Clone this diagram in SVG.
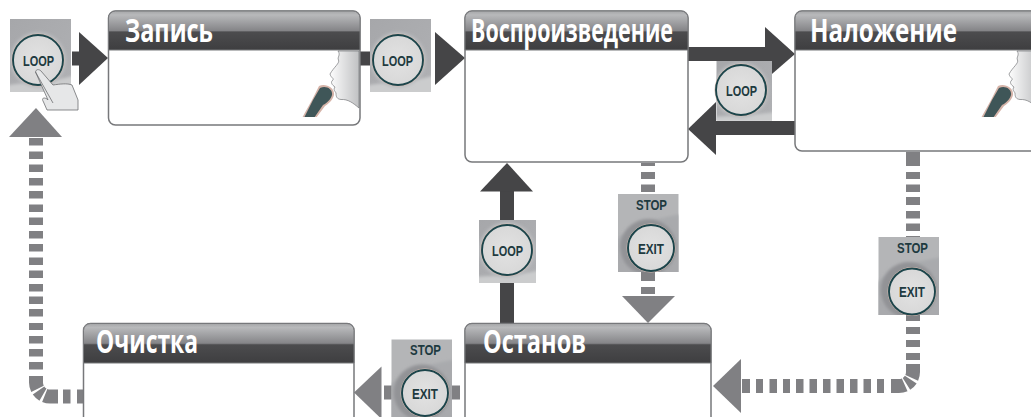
<svg xmlns="http://www.w3.org/2000/svg" width="1031" height="417" viewBox="0 0 1031 417">
<style>
.box{fill:#fff;stroke:#77787b;stroke-width:1.5}
.title{font-family:"Open Sans","Noto Sans",sans-serif;font-weight:700;font-size:33px;fill:#fff}
.solid{fill:#454547}
.dash{fill:#808083}
.dl{fill:none;stroke:#808083;stroke-width:14}
.sl{fill:none;stroke:#454547;stroke-width:14}
.btn{font-family:"Liberation Sans",sans-serif;font-weight:700;font-size:15px;fill:#1e3a40;text-anchor:middle}
.ring{stroke:#1c454b;stroke-width:1.9}
.halo{fill:none;stroke:#dcbfb4;stroke-width:1}
.sw{filter:url(#blur)}
</style>
<defs>
<linearGradient id="hd" x1="0" y1="0" x2="0" y2="1">
<stop offset="0" stop-color="#a5a6a8"/><stop offset=".1" stop-color="#b8b9bb"/><stop offset=".5" stop-color="#858588"/><stop offset=".54" stop-color="#4c4c4e"/><stop offset="1" stop-color="#3e3e40"/>
</linearGradient>
<radialGradient id="cap" cx=".5" cy=".5" r=".6"><stop offset="0" stop-color="#e2e2e2"/><stop offset="1" stop-color="#d6d6d6"/></radialGradient>
<linearGradient id="bg" x1="0" y1="0" x2="1" y2="1"><stop offset="0" stop-color="#a6a7aa"/><stop offset="1" stop-color="#b0b1b4"/></linearGradient>
<linearGradient id="face" x1="0" y1="0" x2="1" y2="0"><stop offset="0" stop-color="#fdfdfd"/><stop offset="1" stop-color="#c0c1c3"/></linearGradient>
<filter id="blur" x="-20%" y="-20%" width="140%" height="140%"><feGaussianBlur stdDeviation="1.500"/></filter>
<clipPath id="cLoop"><rect x="-30.500" y="-36.500" width="61" height="73"/></clipPath>
<clipPath id="cStop"><rect x="-30.250" y="-39" width="60.500" height="78"/></clipPath>
<clipPath id="cL3"><rect x="716.500" y="61" width="55.500" height="59.500"/></clipPath>
<clipPath id="cL4"><rect x="479" y="220" width="57" height="63"/></clipPath>
<clipPath id="cMic"><rect x="295" y="80" width="45" height="37"/></clipPath>
<g id="singer">
<path d="M338 51C341 55 337 57 338.500 60C340 63 334 67 330 74C331 78 334 78 333 80C330 82 332 85 335 87C333 90 335 91 336 93C336 97 337 99 341 99.500C348 99 353 103 359 108V51Z" fill="url(#face)" stroke="#77787b" stroke-width=".7"/>
<g clip-path="url(#cMic)">
<path d="M319 86C326 83 335 88 334 95C333 100 328 104 325 106L316 118H302L312 100Z" fill="#d5b3a8"/>
<path d="M320 88C326 85 333 89 332 95C331 99 327 103 323 105L314 118H304L313 100Z" fill="#3f5658"/>
</g>
</g>
<g id="btnLoop">
<rect x="-30.500" y="-36.500" width="61" height="73" fill="url(#bg)"/>
<g clip-path="url(#cLoop)">
<path class="sw" d="M-34 30C-14 26 12 27 34 20V40H-34Z" fill="#cbcccd"/>
<circle class="sw" cx="-2.500" cy="4.500" r="28" fill="#bcbdc0"/>
</g>
<circle class="halo" cx="-2.500" cy="4.500" r="26"/>
<circle cx="-2.500" cy="4.500" r="25" fill="url(#cap)" class="ring"/>
</g>
<g id="btnStop">
<rect x="-30.250" y="-39" width="60.500" height="78" fill="#b4b5b7"/>
<g clip-path="url(#cStop)">
<path class="sw" d="M-34 8C-14 -10 10 -15 34 -19V44H-34Z" fill="#a9aaad"/>
<circle class="sw" cx="0" cy="14" r="28" fill="#929396"/>
</g>
</g>
</defs>
<rect width="1031" height="417" fill="#fff"/>

<g id="connectors">
<path class="sl" d="M72 58.500H82M360 58.500H372"/>
<polygon class="solid" points="79,32 108,58 79,85"/>
<polygon class="solid" points="435,32 465,58 435,85"/>
<path class="sl" d="M688 54H767"/>
<polygon class="solid" points="765,27 795,54 765,80"/>
<path class="sl" d="M795 128H714"/>
<polygon class="solid" points="716,102 688,129 716,155"/>
<path class="sl" d="M507 323V189"/>
<polygon class="solid" points="480,191.500 507,163 533,191.500"/>

<g id="dash-stop-play">
<path class="dl" d="M648 163V166M648 172V179M648 184.500V192M648 270V281M648 287V294"/>
<polygon class="dash" points="622,296 675,296 648,323"/>
</g>
<g id="dash-over-stop">
<path class="dl" d="M913 152V166M913 172V179M913 184.500V192M913 197V205M913 211V218.500M913 223.500V231M913 236V240M913 312V321M913 327V334M913 340V347M913 353V360"/>
<path class="dl" d="M913 364V372A14 14 0 0 1 899 386H891" stroke-dasharray="14 2 6 2 20"/>
<path class="dl" d="M884 386H877M871 386H863.500M857.500 386H850M844 386H836.500M830.500 386H823M817 386H809.500M803.500 386H796M790 386H783M777 386H769.500M763 386H756M750 386H742"/>
<polygon class="dash" points="741,359 741,413 713,386"/>
</g>
<g id="dash-stop-clear">
<path class="dl" d="M460 392.500H452M392 392.500H384"/>
<polygon class="dash" points="381.500,366.500 381.500,419 354,392.500"/>
</g>
<g id="dash-clear-rec">
<path class="dl" d="M83 396.500H77M70.500 396.500H63"/>
<path class="dl" d="M36 376V382.500A14 14 0 0 0 50 396.500H58" stroke-dasharray="13 2 6 2 20"/>
<path class="dl" d="M36 138V145.500M36 151.500V159M36 164.500V172M36 178V185.500M36 191V198.500M36 204.500V212M36 217.500V225M36 231V238.500M36 244V251.500M36 257.500V265M36 270.500V278M36 284V291.500M36 296.500V304M36 309V316.500M36 323V330M36 336V343.500M36 349V356.500M36 362V369.500"/>
<polygon class="dash" points="9,137 62,137 36,108"/>
</g>
</g>

<g id="node-record">
<rect class="box" x="108.500" y="11" width="251.500" height="114" rx="7"/>
<path d="M108.500 50V18a7 7 0 0 1 7-7H353a7 7 0 0 1 7 7V50Z" fill="url(#hd)" stroke="#77787b"/>
<text class="title" x="125" y="41.500" textLength="88" lengthAdjust="spacingAndGlyphs">Запись</text>
<use href="#singer"/>
</g>
<g id="node-play">
<rect class="box" x="465" y="11" width="223" height="151" rx="7"/>
<path d="M465 50V18a7 7 0 0 1 7-7H681a7 7 0 0 1 7 7V50Z" fill="url(#hd)" stroke="#77787b"/>
<text class="title" x="471" y="41.500" textLength="202" lengthAdjust="spacingAndGlyphs">Воспроизведение</text>
</g>
<g id="node-overdub">
<rect class="box" x="795" y="11" width="250" height="140" rx="7"/>
<path d="M795 50V18a7 7 0 0 1 7-7H1045V50Z" fill="url(#hd)" stroke="#77787b"/>
<text class="title" x="810" y="41.500" textLength="147" lengthAdjust="spacingAndGlyphs">Наложение</text>
<use href="#singer" x="679"/>
</g>
<g id="node-clear">
<rect class="box" x="83.500" y="323.500" width="270.500" height="110" rx="7"/>
<path d="M83.500 363V330.500a7 7 0 0 1 7-7H347a7 7 0 0 1 7 7V363Z" fill="url(#hd)" stroke="#77787b"/>
<text class="title" x="96" y="353" textLength="102" lengthAdjust="spacingAndGlyphs">Очистка</text>
</g>
<g id="node-stop">
<rect class="box" x="465" y="323.500" width="246" height="110" rx="7"/>
<path d="M465 363V330.500a7 7 0 0 1 7-7H704a7 7 0 0 1 7 7V363Z" fill="url(#hd)" stroke="#77787b"/>
<text class="title" x="483" y="353" textLength="103" lengthAdjust="spacingAndGlyphs">Останов</text>
</g>

<g id="button-loop-press">
<use href="#btnLoop" x="40.500" y="55.500"/>
<text class="btn" x="38.500" y="65.500" textLength="31" lengthAdjust="spacingAndGlyphs">LOOP</text>
<path d="M35.500 72C36 69 39 69 41 71L53 85C60 84 67 83 72 85L78 100V110H47L43.500 102C41 98 44 97 47 99L48 100Z" fill="#e6e7e8" stroke="#6d6e71" stroke-width=".8"/>
<path d="M35.500 72L53 103" fill="none" stroke="#6d6e71" stroke-width=".8"/>
</g>
<g id="button-loop-2">
<use href="#btnLoop" x="400.500" y="55.500"/>
<text class="btn" x="397.500" y="66" textLength="31" lengthAdjust="spacingAndGlyphs">LOOP</text>
</g>
<g id="button-loop-3">
<rect x="716.500" y="61" width="55.500" height="59.500" fill="url(#bg)"/>
<g clip-path="url(#cL3)">
<path class="sw" d="M712 117C735 115 755 115 776 112V124H712Z" fill="#cbcccd"/>
<circle class="sw" cx="741" cy="90" r="28" fill="#bcbdc0"/>
</g>
<circle class="halo" cx="741" cy="90" r="26"/>
<circle cx="741" cy="90" r="25" fill="url(#cap)" class="ring"/>
<text class="btn" x="741.500" y="96" textLength="31" lengthAdjust="spacingAndGlyphs">LOOP</text>
</g>
<g id="button-loop-4">
<rect x="479" y="220" width="57" height="63" fill="url(#bg)"/>
<g clip-path="url(#cL4)">
<path class="sw" d="M475 277C497 275 518 276 540 270V287H475Z" fill="#cbcccd"/>
<circle class="sw" cx="507" cy="250" r="28" fill="#bcbdc0"/>
</g>
<circle class="halo" cx="507" cy="250" r="26"/>
<circle cx="507" cy="250" r="25" fill="url(#cap)" class="ring"/>
<text class="btn" x="507.500" y="256" textLength="31" lengthAdjust="spacingAndGlyphs">LOOP</text>
</g>
<g id="button-stop-1">
<use href="#btnStop" x="648.250" y="233"/>
<circle class="halo" cx="651" cy="248" r="24"/>
<circle cx="651" cy="248" r="23" fill="url(#cap)" class="ring"/>
<text class="btn" x="651.500" y="210" textLength="31" lengthAdjust="spacingAndGlyphs">STOP</text>
<text class="btn" x="651" y="253.500" textLength="26" lengthAdjust="spacingAndGlyphs">EXIT</text>
</g>
<g id="button-stop-2">
<use href="#btnStop" x="908.750" y="276"/>
<circle class="halo" cx="912" cy="291.500" r="24"/>
<circle cx="912" cy="291.500" r="23" fill="url(#cap)" class="ring"/>
<text class="btn" x="912.500" y="253" textLength="31" lengthAdjust="spacingAndGlyphs">STOP</text>
<text class="btn" x="912" y="297" textLength="26" lengthAdjust="spacingAndGlyphs">EXIT</text>
</g>
<g id="button-stop-3">
<use href="#btnStop" x="421.750" y="378.500"/>
<circle class="halo" cx="425" cy="393" r="24"/>
<circle cx="425" cy="393" r="23" fill="url(#cap)" class="ring"/>
<text class="btn" x="425.500" y="355" textLength="31" lengthAdjust="spacingAndGlyphs">STOP</text>
<text class="btn" x="425" y="398.500" textLength="26" lengthAdjust="spacingAndGlyphs">EXIT</text>
</g>
</svg>
